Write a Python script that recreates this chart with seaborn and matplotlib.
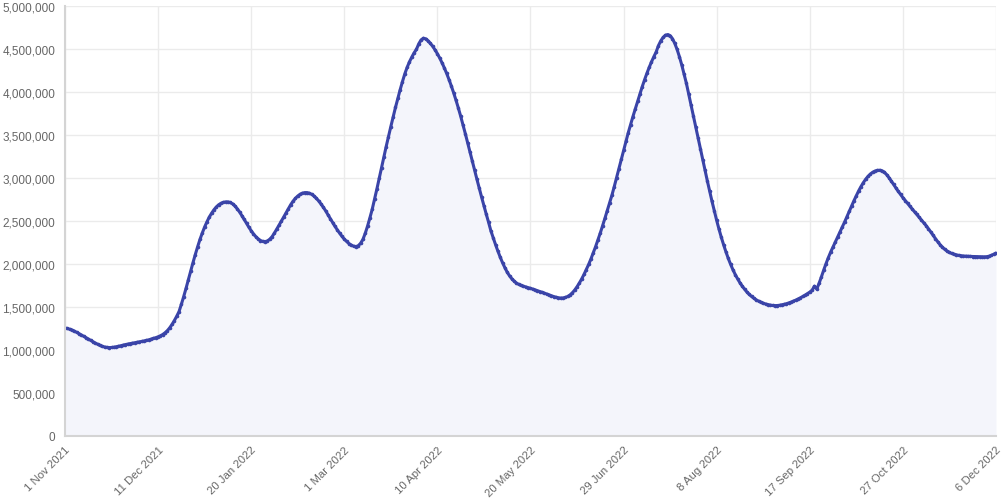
import pandas as pd
import seaborn as sns
import matplotlib.pyplot as plt
import matplotlib.ticker as mticker
import numpy as np

# daily values, in thousands, 1 Nov 2021 .. 6 Dec 2022
start_date = '2021-11-01'
values_k = [
    1255, 1250, 1242, 1232, 1220, 1206, 1191, 1176, 1160, 1144,
    1128, 1112, 1096, 1081, 1067, 1054, 1043, 1035, 1030, 1028,
    1029, 1032, 1037, 1043, 1050, 1057, 1063, 1069, 1074, 1079,
    1084, 1089, 1094, 1099, 1105, 1111, 1118, 1126, 1134, 1143,
    1153, 1165, 1180, 1200, 1225, 1258, 1297, 1342, 1392, 1446,
    1530, 1620, 1715, 1815, 1915, 2015, 2110, 2200, 2285, 2360,
    2430, 2490, 2545, 2590, 2630, 2662, 2688, 2705, 2716, 2722,
    2722, 2715, 2700, 2675, 2643, 2605, 2563, 2518, 2472, 2428,
    2387, 2350, 2318, 2292, 2273, 2262, 2260, 2268, 2288, 2318,
    2360, 2405, 2452, 2500, 2548, 2597, 2645, 2690, 2730, 2763,
    2790, 2810, 2823, 2830, 2830, 2823, 2810, 2790, 2764, 2733,
    2698, 2660, 2618, 2573, 2527, 2482, 2438, 2397, 2358, 2322,
    2290, 2262, 2238, 2220, 2207, 2202, 2212, 2240, 2285, 2355,
    2440, 2535, 2635, 2750, 2870, 2995, 3120, 3245, 3365, 3482,
    3597, 3710, 3820, 3925, 4025, 4120, 4210, 4285, 4350, 4405,
    4455, 4495, 4560, 4605, 4625, 4618, 4595, 4565, 4530, 4490,
    4445, 4395, 4340, 4280, 4215, 4145, 4070, 3990, 3905, 3815,
    3720, 3620, 3517, 3412, 3305, 3198, 3090, 2985, 2880, 2778,
    2678, 2580, 2485, 2385, 2305, 2225, 2150, 2080, 2015, 1958,
    1905, 1862, 1828, 1800, 1778, 1762, 1750, 1741, 1733, 1725,
    1717, 1708, 1699, 1690, 1680, 1670, 1660, 1650, 1640, 1630,
    1621, 1613, 1607, 1604, 1605, 1611, 1622, 1640, 1665, 1697,
    1735, 1778, 1826, 1878, 1935, 1995, 2060, 2130, 2203, 2280,
    2360, 2445, 2532, 2620, 2710, 2800, 2900, 3005, 3110, 3215,
    3320, 3425, 3525, 3620, 3712, 3800, 3890, 3975, 4060, 4140,
    4215, 4285, 4350, 4410, 4465, 4540, 4595, 4635, 4660, 4668,
    4655, 4620, 4565, 4495, 4410, 4315, 4210, 4100, 3975, 3850,
    3722, 3595, 3468, 3340, 3212, 3088, 2965, 2845, 2728, 2615,
    2507, 2405, 2310, 2222, 2140, 2064, 1995, 1933, 1877, 1827,
    1782, 1742, 1706, 1674, 1646, 1622, 1601, 1583, 1568, 1555,
    1544, 1535, 1528, 1522, 1518, 1516, 1517, 1520, 1525, 1531,
    1538, 1547, 1557, 1568, 1580, 1593, 1607, 1622, 1638, 1655,
    1673, 1695, 1742, 1708, 1775, 1850, 1930, 2005, 2075, 2140,
    2198, 2255, 2312, 2370, 2430, 2490, 2552, 2614, 2676, 2737,
    2795, 2850, 2900, 2945, 2985, 3018, 3045, 3066, 3080, 3088,
    3090, 3084, 3068, 3040, 3005, 2965, 2925, 2885, 2845, 2808,
    2772, 2738, 2705, 2672, 2640, 2608, 2576, 2544, 2512, 2480,
    2446, 2410, 2372, 2333, 2295, 2258, 2224, 2195, 2170, 2150,
    2134, 2122, 2113, 2106, 2100, 2096, 2093, 2091, 2089, 2088,
    2087, 2086, 2085, 2084, 2083, 2083, 2085, 2090, 2100, 2113,
    2128,
]
tick_labels = ['1 Nov 2021', '11 Dec 2021', '20 Jan 2022', '1 Mar 2022',
               '10 Apr 2022', '20 May 2022', '29 Jun 2022', '8 Aug 2022',
               '17 Sep 2022', '27 Oct 2022', '6 Dec 2022']

df = pd.DataFrame({
    'date': pd.date_range(start_date, periods=len(values_k), freq='D'),
    'value': np.array(values_k) * 1000,
})

sns.set_style('white')
plt.rcParams['font.family'] = ['Liberation Sans', 'DejaVu Sans']

line_color = '#3a44a8'
grid_color = '#ebebeb'
text_color = '#666666'

fig = plt.figure(figsize=(10.04, 5.02), dpi=100)
ax = fig.add_axes([0.0647, 0.1295, 0.9273, 0.8566])

ax.fill_between(df['date'], df['value'], 0, color='#f4f5fb', linewidth=0)
sns.lineplot(data=df, x='date', y='value', ax=ax, color=line_color,
             linewidth=2.2, marker='o', markersize=2.6, markeredgewidth=0)

ax.set_xlim(df['date'].iloc[0], df['date'].iloc[-1])
ax.set_ylim(0, 5000000)
tick_dates = pd.to_datetime(tick_labels, format='%d %b %Y')
ax.set_xticks(tick_dates)
ax.set_xticklabels(tick_labels, rotation=45, ha='right', rotation_mode='anchor')
ax.yaxis.set_major_locator(mticker.MultipleLocator(500000))
ax.yaxis.set_major_formatter(mticker.FuncFormatter(lambda v, p: f'{int(v):,}'))

ax.grid(True, color=grid_color, linewidth=1)
ax.set_axisbelow(True)
ax.tick_params(axis='y', colors=grid_color, labelcolor=text_color,
               labelsize=8.5, length=5, width=1, pad=2)
ax.tick_params(axis='x', colors=grid_color, labelcolor=text_color,
               labelsize=8.2, length=5, width=1, pad=1)
for side in ['top', 'right']:
    ax.spines[side].set_visible(False)
for side in ['left', 'bottom']:
    ax.spines[side].set_color('#d4d4d4')
    ax.spines[side].set_linewidth(1.5)
ax.set_xlabel('')
ax.set_ylabel('')

plt.savefig('out.png', dpi=100)
